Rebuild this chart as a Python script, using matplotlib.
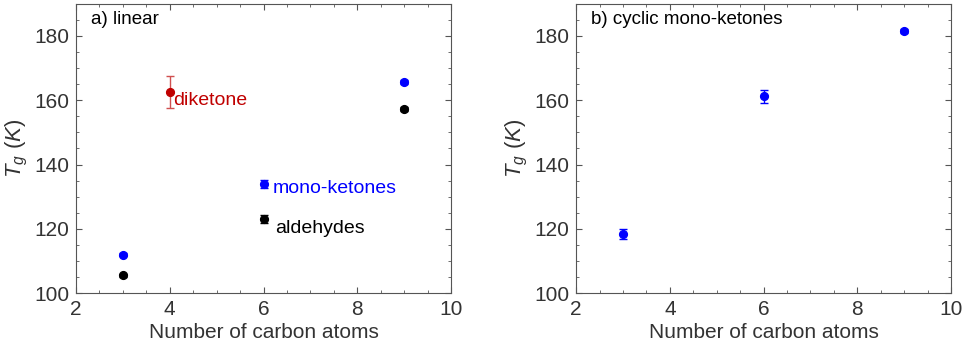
import matplotlib
matplotlib.use("Agg")
import matplotlib.pyplot as plt
from matplotlib.ticker import MultipleLocator

plt.rcParams['font.family'] = ['Liberation Sans', 'DejaVu Sans']
plt.rcParams['mathtext.fontset'] = 'custom'
plt.rcParams['mathtext.it'] = 'Liberation Sans:italic'
plt.rcParams['mathtext.rm'] = 'Liberation Sans'

# Data
carbons = [3, 6, 9]
mono_ketones = [112.0, 134.0, 165.7]
mono_ketones_err = [0.5, 1.2, 0.5]
aldehydes = [105.5, 123.0, 157.3]
aldehydes_err = [0.5, 1.2, 0.5]
diketone_x = [4]
diketone = [162.7]
diketone_err = [5.0]
cyclic = [118.3, 161.3, 181.5]
cyclic_err = [1.5, 2.0, 0.6]

txt = '#333333'
axc = '#555555'
fig = plt.figure(figsize=(9.65, 3.51), dpi=100)
ax1 = fig.add_axes([0.0788, 0.165, 0.3886, 0.824])
ax2 = fig.add_axes([0.597, 0.165, 0.3886, 0.824])

ms = 5.6
ax1.errorbar(carbons, mono_ketones, yerr=mono_ketones_err, fmt='o', color='#0000ff', ms=ms, capsize=3, elinewidth=1)
ax1.errorbar(carbons, aldehydes, yerr=aldehydes_err, fmt='o', color='black', ms=ms, capsize=3, elinewidth=1)
ax1.errorbar(diketone_x, diketone, yerr=diketone_err, fmt='o', color='#c00000', ms=ms, capsize=3, elinewidth=1,
             ecolor='#d05050')
ax1.text(4.07, 160, 'diketone', color='#c00000', fontsize=14, va='center', ha='left')
ax1.text(6.2, 132.5, 'mono-ketones', color='#0000ff', fontsize=14, va='center', ha='left')
ax1.text(6.25, 120.2, 'aldehydes', color='black', fontsize=14, va='center', ha='left')
ax1.text(0.04, 0.975, 'a) linear', transform=ax1.transAxes, fontsize=13.5, va='top', ha='left', color='black')

ax2.errorbar(carbons, cyclic, yerr=cyclic_err, fmt='o', color='#0000ff', ms=ms, capsize=3, elinewidth=1)
ax2.text(0.04, 0.975, 'b) cyclic mono-ketones', transform=ax2.transAxes, fontsize=13.5, va='top', ha='left', color='black')

for ax in (ax1, ax2):
    ax.set_xlim(2, 10)
    ax.set_ylim(100, 190)
    ax.set_xticks([2, 4, 6, 8, 10])
    ax.set_yticks([100, 120, 140, 160, 180])
    ax.xaxis.set_minor_locator(MultipleLocator(0.5))
    ax.yaxis.set_minor_locator(MultipleLocator(5))
    ax.tick_params(which='both', direction='in', top=True, right=True, colors=axc, labelcolor=txt, labelsize=15)
    ax.tick_params(which='major', length=4, pad=5)
    ax.tick_params(which='minor', length=2)
    for s in ax.spines.values():
        s.set_color(axc)
    ax.set_xlabel('Number of carbon atoms', fontsize=15, color=txt, labelpad=3)
    ax.set_ylabel(r'$T_g$ $(K)$', fontsize=16, color=txt, labelpad=3)

fig.savefig('out.png', dpi=100)
